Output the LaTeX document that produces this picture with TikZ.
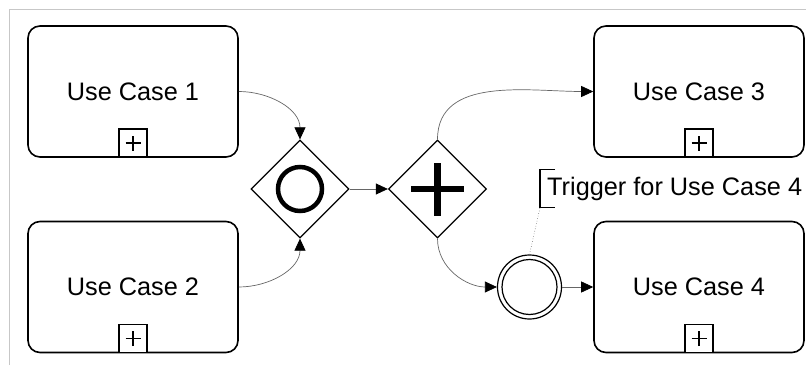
\documentclass[tikz,border=0pt]{standalone}
\usepackage{fontspec}
\setmainfont{Liberation Sans}
\usetikzlibrary{shapes.geometric,arrows.meta}
\begin{document}
\begin{tikzpicture}[x=1pt,y=1pt,
  task/.style={draw, rounded corners=12pt, minimum width=210pt, minimum height=131pt,
    line width=1.6pt, inner sep=0pt, font=\fontsize{25.3}{30}\selectfont},
  submark/.style={draw, line width=1.4pt, minimum size=28pt, inner sep=0pt, anchor=south, fill=white},
  gate/.style={diamond, draw, line width=1.3pt, minimum width=98pt, minimum height=98pt,
    inner sep=0pt, aspect=1, fill=white},
  flow/.style={draw=black!60, line width=0.7pt, -{Triangle[length=12pt,width=11pt,color=black]}},
  plusline/.style={line width=1.3pt},
]
\useasboundingbox (0,0) rectangle (806,365);
% frame
\draw[black!22, line width=1pt] (9.5,0) -- (9.5,355.5) -- (806,355.5);

% tasks
\node[task] (uc1) at (133,273.5) {Use Case 1};
\node[task] (uc2) at (133,78) {Use Case 2};
\node[task] (uc3) at (699,273.5) {Use Case 3};
\node[task] (uc4) at (699,78) {Use Case 4};

% sub-process markers
\foreach \t in {uc1,uc2,uc3,uc4}{
  \node[submark] (m\t) at (\t.south) {};
  \draw[plusline] ([xshift=-7.5pt]m\t.center) -- ([xshift=7.5pt]m\t.center);
  \draw[plusline] ([yshift=-7.5pt]m\t.center) -- ([yshift=7.5pt]m\t.center);
}

% gateways
\node[gate] (g1) at (300,176) {};
\draw[line width=4.5pt] (g1.center) circle (22pt);
\node[gate] (g2) at (437.5,176) {};
\draw[line width=6.5pt] ([xshift=-26.5pt]g2.center) -- ([xshift=26.5pt]g2.center);
\draw[line width=6.5pt] ([yshift=-26.5pt]g2.center) -- ([yshift=26.5pt]g2.center);

% intermediate event
\node[circle, draw, line width=1.2pt, minimum size=64pt, inner sep=0pt] (ev) at (529.5,78) {};
\draw[line width=1.2pt] (ev.center) circle (27.5pt);

% annotation
\node[anchor=west, inner xsep=7pt, inner ysep=0pt, minimum height=38pt,
  font=\fontsize{25.3}{30}\selectfont] (ann) at (540,176.5) {Trigger for Use Case 4};
\draw[line width=1.5pt] ([xshift=15pt]ann.north west) -- (ann.north west) -- (ann.south west) -- ([xshift=15pt]ann.south west);
\draw[black!55, line width=0.6pt, dotted] (ev.north) -- (ann.south west);

% flows
\draw[flow] (uc1.east) to[out=0,in=90] (g1.north);
\draw[flow] (uc2.east) to[out=0,in=-90] (g1.south);
\draw[flow] (g1.east) -- (g2.west);
\draw[flow] (g2.north) to[out=90,in=180] (uc3.west);
\draw[flow] (g2.south) to[out=-90,in=180] (ev.west);
\draw[flow] (ev.east) -- (uc4.west);
\end{tikzpicture}
\end{document}
